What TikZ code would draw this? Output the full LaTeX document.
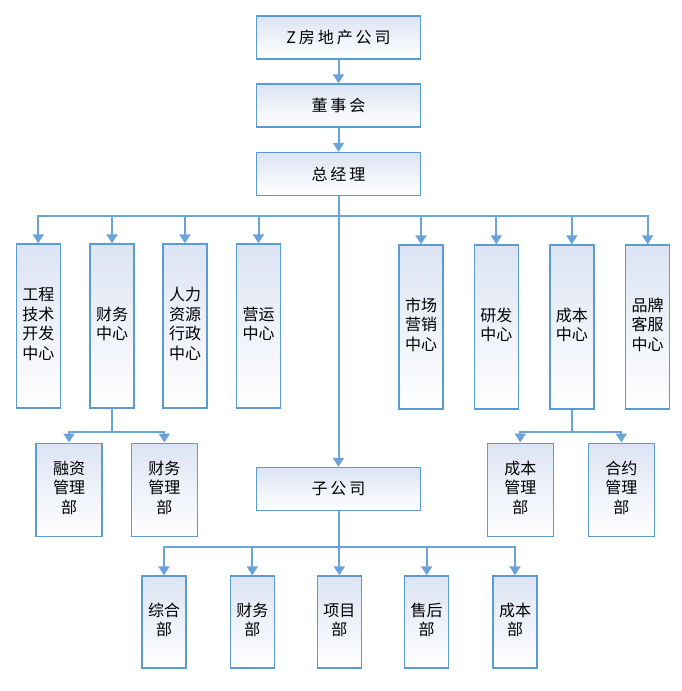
\documentclass[tikz,border=0pt]{standalone}
\usepackage{fontspec}
\setmainfont{Noto Sans CJK SC}
\newfontfamily\headfont[LetterSpace=18]{Noto Sans CJK SC}
\usepackage{tikz}
\usetikzlibrary{arrows.meta,positioning}
\definecolor{orgblue}{RGB}{91,155,213}
\definecolor{orgline}{RGB}{105,163,218}
\definecolor{orgfill}{RGB}{220,228,243}
\tikzstyle{arrow} = [line width=2pt,-{Triangle[width=11pt,length=9pt]},color=orgline]
\tikzstyle{link} = [line width=2pt,color=orgline]
\tikzstyle{unit} = [rectangle, draw=orgblue, line width=1.4pt, shading angle=45, top color=orgfill, bottom color=white, inner sep=0pt, text centered, font=\fontsize{16pt}{19.5pt}\selectfont]
\tikzstyle{headbox} = [unit, minimum width=164pt, minimum height=43pt, font=\fontsize{16pt}{19.5pt}\headfont]
\tikzstyle{centrebox} = [unit, minimum width=44pt, minimum height=164pt]
\tikzstyle{deptbox} = [unit, minimum width=66pt, minimum height=93pt]
\tikzstyle{branchbox} = [unit, minimum width=43pt, minimum height=92pt]

\begin{document}
\begin{tikzpicture}[x=1pt, y=-1pt]
\useasboundingbox (0,0) rectangle (682,691);
% top of the company
\node (company) [headbox] at (338.5,37.5) {Z房地产公司};
\node (board) [headbox] at (338.5,105.5) {董事会};
\node (gm) [headbox] at (338.5,174) {总经理};

% centres
\node (eng) [centrebox] at (38.3,326) {\begin{tabular}{c}工程\\技术\\开发\\中心\end{tabular}};
\node (fin) [centrebox] at (112,326) {\begin{tabular}{c}财务\\中心\end{tabular}};
\node (hr) [centrebox] at (185,326) {\begin{tabular}{c}人力\\资源\\行政\\中心\end{tabular}};
\node (ops) [centrebox] at (258.5,326) {\begin{tabular}{c}营运\\中心\end{tabular}};
\node (mkt) [centrebox] at (421,327) {\begin{tabular}{c}市场\\营销\\中心\end{tabular}};
\node (rnd) [centrebox] at (496.3,327) {\begin{tabular}{c}研发\\中心\end{tabular}};
\node (cost) [centrebox] at (571.8,327) {\begin{tabular}{c}成本\\中心\end{tabular}};
\node (brand) [centrebox] at (647.7,327) {\begin{tabular}{c}品牌\\客服\\中心\end{tabular}};

% departments under the centres
\node (funding) [deptbox] at (69,489.7) {\begin{tabular}{c}融资\\管理\\部\end{tabular}};
\node (accounts) [deptbox] at (164.3,489.7) {\begin{tabular}{c}财务\\管理\\部\end{tabular}};
\node (costmgmt) [deptbox] at (520.3,489.7) {\begin{tabular}{c}成本\\管理\\部\end{tabular}};
\node (contract) [deptbox] at (621.3,489.7) {\begin{tabular}{c}合约\\管理\\部\end{tabular}};

% subsidiary
\node (sub) [headbox] at (338.5,489) {子公司};
\node (general) [branchbox] at (164,622) {\begin{tabular}{c}综合\\部\end{tabular}};
\node (subfin) [branchbox] at (252.3,622) {\begin{tabular}{c}财务\\部\end{tabular}};
\node (project) [branchbox] at (339.3,622) {\begin{tabular}{c}项目\\部\end{tabular}};
\node (service) [branchbox] at (426.7,622) {\begin{tabular}{c}售后\\部\end{tabular}};
\node (subcost) [branchbox] at (515,622) {\begin{tabular}{c}成本\\部\end{tabular}};

% buses
\coordinate [below=20pt of gm] (mainbus);
\coordinate [below=23pt of fin] (finbus);
\coordinate [below=22pt of cost] (costbus);
\coordinate [below=36pt of sub] (subbus);

\draw[arrow] (company) -- (board);
\draw[arrow] (board) -- (gm);
\draw[arrow] (gm) -- (sub);
\foreach \n in {eng,fin,hr,ops,mkt,rnd,cost,brand}
  \draw[arrow] (mainbus) -| (\n.north);
\draw[link] (fin) -- (finbus);
\foreach \n in {funding,accounts}
  \draw[arrow] (finbus) -| (\n.north);
\draw[link] (cost) -- (costbus);
\foreach \n in {costmgmt,contract}
  \draw[arrow] (costbus) -| (\n.north);
\draw[link] (sub) -- (subbus);
\foreach \n in {general,subfin,project,service,subcost}
  \draw[arrow] (subbus) -| (\n.north);
\end{tikzpicture}
\end{document}
